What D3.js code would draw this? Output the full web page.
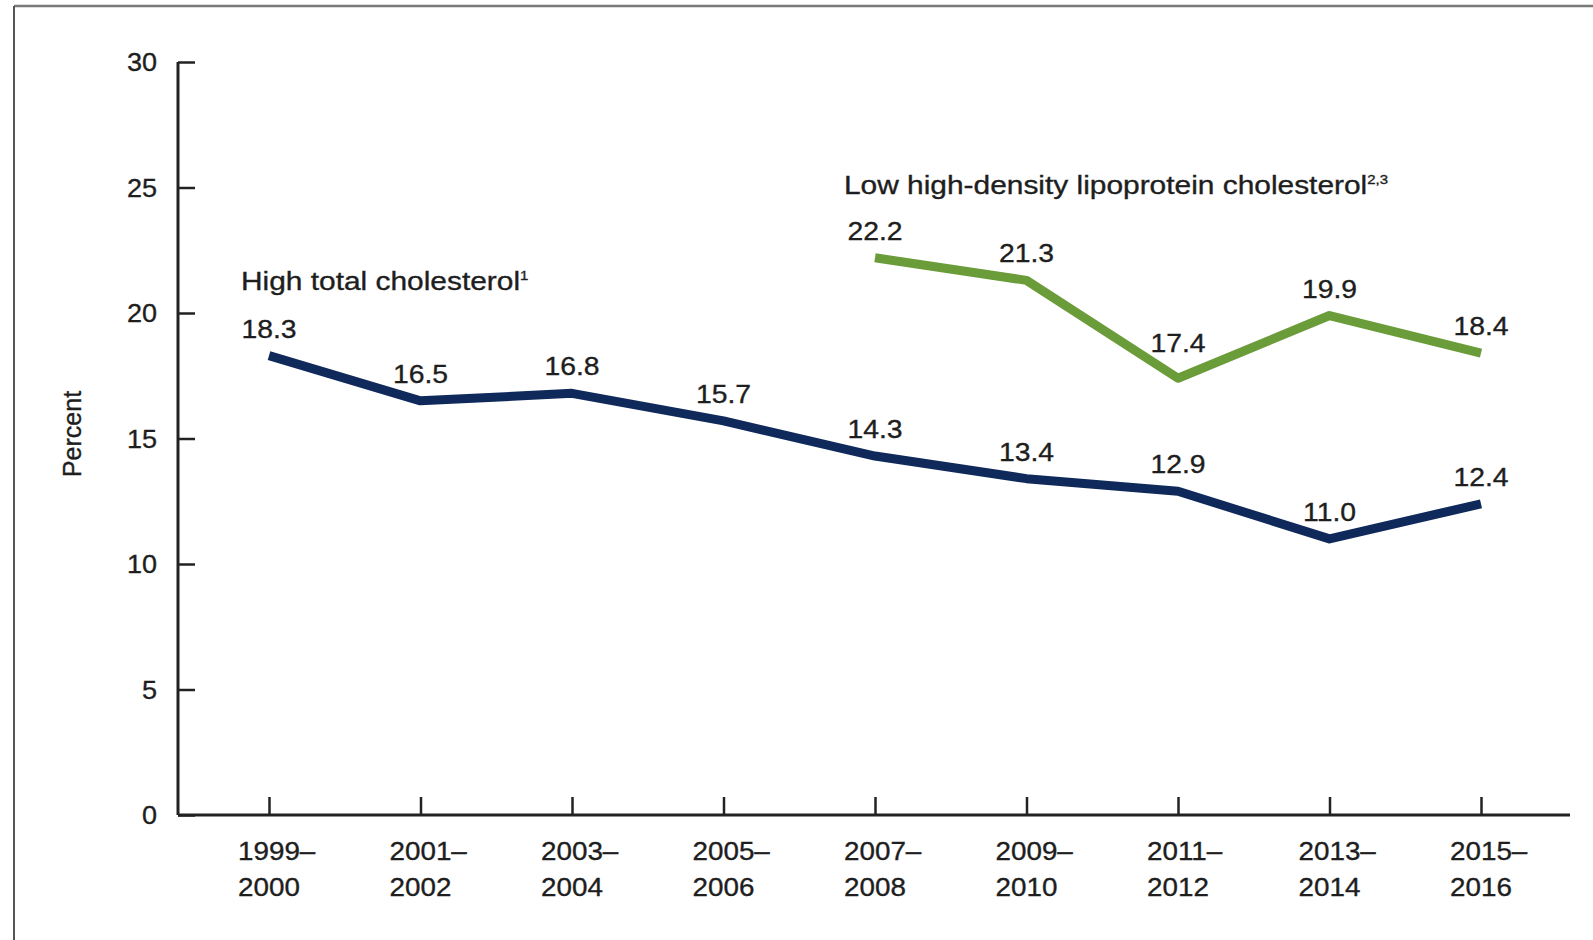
<!DOCTYPE html>
<html>
<head>
<meta charset="utf-8">
<script src="https://cdn.jsdelivr.net/npm/d3@7"></script>
<style>
  html, body { margin: 0; padding: 0; background: #fff; }
  svg { display: block; }
  text { font-family: "Liberation Sans", Arial, sans-serif; fill: #1e1e1e; stroke: #1e1e1e; stroke-width: 0.35px; }
</style>
</head>
<body>
<svg id="chart" width="1593" height="940"></svg>
<script>
const periods = ["1999–2000","2001–2002","2003–2004","2005–2006","2007–2008","2009–2010","2011–2012","2013–2014","2015–2016"];
const periodTop = ["1999–","2001–","2003–","2005–","2007–","2009–","2011–","2013–","2015–"];
const periodBottom = ["2000","2002","2004","2006","2008","2010","2012","2014","2016"];
const highTotal = [18.3,16.5,16.8,15.7,14.3,13.4,12.9,11.0,12.4];
const lowHDL = [null,null,null,null,22.2,21.3,17.4,19.9,18.4];
const yTicks = [0,5,10,15,20,25,30];
const seriesNames = ["High total cholesterol", "Low high-density lipoprotein cholesterol"];
const seriesMarks = ["1", "2,3"];

const svg = d3.select("#chart");
const x = d3.scalePoint().domain(periods).range([269, 1481]);
const y = d3.scaleLinear().domain([0, 30]).range([815, 62]);

// frame
svg.append("line").attr("x1", 14).attr("x2", 1593).attr("y1", 6).attr("y2", 6)
  .attr("stroke", "#7a7a7a").attr("stroke-width", 2.5);
svg.append("line").attr("x1", 14).attr("x2", 14).attr("y1", 6).attr("y2", 940)
  .attr("stroke", "#555").attr("stroke-width", 2);

// y axis
const yAxis = svg.append("g").attr("transform", "translate(178,0)")
  .call(d3.axisRight(y).tickValues(yTicks).tickSize(17).tickFormat(""));
yAxis.select(".domain").attr("d", `M0,${y(30)}H0V${y(0)}`).attr("stroke", "#222").attr("stroke-width", 3);
yAxis.selectAll(".tick line").attr("stroke", "#222").attr("stroke-width", 2.5);
svg.append("g").selectAll("text").data(yTicks).join("text")
  .attr("transform", d => `translate(157,${y(d)}) scale(1.04,1)`).attr("dy", "0.36em")
  .attr("text-anchor", "end").attr("font-size", 26).text(d => d);

// x axis
const xAxis = svg.append("g").attr("transform", `translate(0,${y(0)})`)
  .call(d3.axisTop(x).tickSize(18).tickFormat(""));
xAxis.select(".domain").attr("d", `M178,0H1570`).attr("stroke", "#222").attr("stroke-width", 3);
xAxis.selectAll(".tick line").attr("stroke", "#222").attr("stroke-width", 2.5);
const xl = svg.append("g").selectAll("text").data(periods).join("text")
  .attr("transform", d => `translate(${x(d) - 31},0) scale(1.07,1)`)
  .attr("font-size", 26).attr("text-anchor", "start");
xl.append("tspan").attr("x", 0).attr("y", 860).text((d, i) => periodTop[i]);
xl.append("tspan").attr("x", 0).attr("y", 896).text((d, i) => periodBottom[i]);

// y title
svg.append("text").attr("transform", "translate(81,434) rotate(-90)")
  .attr("text-anchor", "middle").attr("font-size", 25).text("Percent");

// lines
const line = d3.line().defined(d => d.v != null).x(d => x(d.p)).y(d => y(d.v));
const s1 = periods.map((p, i) => ({p, v: highTotal[i]}));
const s2 = periods.map((p, i) => ({p, v: lowHDL[i]}));
svg.append("path").datum(s1).attr("d", line).attr("fill", "none")
  .attr("stroke", "#0f295a").attr("stroke-width", 9).attr("stroke-linejoin", "round");
svg.append("path").datum(s2).attr("d", line).attr("fill", "none")
  .attr("stroke", "#6a9c3a").attr("stroke-width", 9).attr("stroke-linejoin", "round");

// value labels (sharp V-shaped dips get extra clearance)
[s1, s2].forEach(s => {
  const pts = s.filter(d => d.v != null);
  svg.append("g").selectAll("text").data(pts).join("text")
    .attr("transform", (d, i) => {
      const prev = pts[i - 1], next = pts[i + 1];
      const sharp = prev && next && (prev.v - d.v) > 3 && (next.v - d.v) > 2;
      return `translate(${x(d.p)},${y(d.v) - (sharp ? 26 : 18)}) scale(1.09,1)`;
    })
    .attr("text-anchor", "middle").attr("font-size", 26)
    .text(d => d.v.toFixed(1));
});

// series labels
const t1 = svg.append("text").attr("transform", "translate(241,290) scale(1.15,1)").attr("font-size", 26);
t1.append("tspan").text(seriesNames[0]);
t1.append("tspan").attr("dy", -10).attr("font-size", 13).text(seriesMarks[0]);
const t2 = svg.append("text").attr("transform", "translate(844,194) scale(1.15,1)").attr("font-size", 26);
t2.append("tspan").text(seriesNames[1]);
t2.append("tspan").attr("dy", -10).attr("font-size", 13).text(seriesMarks[1]);
</script>
</body>
</html>
